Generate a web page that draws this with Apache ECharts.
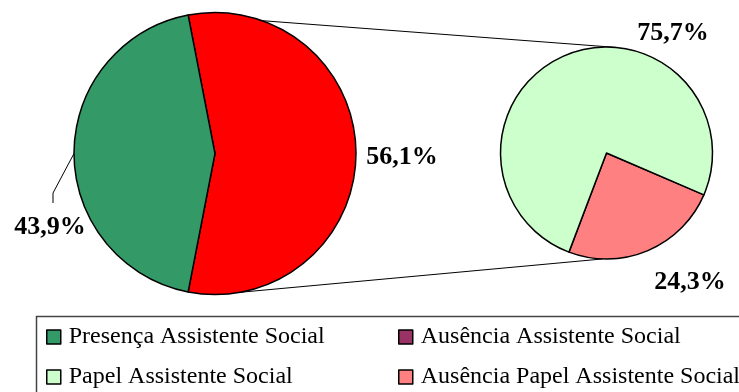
<!DOCTYPE html>
<html>
<head>
<meta charset="utf-8">
<script src="https://cdn.jsdelivr.net/npm/echarts@6/dist/echarts.min.js"></script>
<style>
  html, body { margin: 0; padding: 0; background: #fff; }
  #chart { width: 739px; height: 392px; }
</style>
</head>
<body>
<div id="chart"></div>
<script>
// Main pie: presence of a social worker vs. absence
const mainNames = ['Ausência Assistente Social', 'Presença Assistente Social'];
const mainValues = [56.1, 43.9];
// Secondary pie: breakdown of the absence slice
const subNames = ['Ausência Papel Assistente Social', 'Papel Assistente Social'];
const subValues = [24.3, 75.7];
// Legend entries, in display order per column
const legendLeft = ['Presença Assistente Social', 'Papel Assistente Social'];
const legendRight = ['Ausência Assistente Social', 'Ausência Papel Assistente Social'];

const COLORS = {
  'Presença Assistente Social': '#339966',
  'Ausência Assistente Social': '#FF0000',
  'Papel Assistente Social': '#CCFFCC',
  'Ausência Papel Assistente Social': '#FF8080'
};
const LEGEND_SWATCH = { 'Ausência Assistente Social': '#993366' };

const FONT = "'Times New Roman', 'Liberation Serif', serif";

// Geometry of the two pies
const MAIN = { cx: 215, cy: 153.5, r: 141 };
const SUB = { cx: 606.5, cy: 153, r: 106 };
const SUB_PINK_MID = -67; // direction (deg) of the breakdown's small slice

// Label anchors relative to each pie's centre
const MAIN_LABEL_OFF = [[187, 4], [-165, 73.5]];
const SUB_LABEL_OFF = [[83.5, 129], [66.5, -120]];

const fmt = v => v.toFixed(1).replace('.', ',') + '%';
const total = a => a.reduce((s, v) => s + v, 0);

const mainStart = mainValues[0] / total(mainValues) * 180;
const subStart = SUB_PINK_MID + subValues[0] / total(subValues) * 180;

function pt(p, deg) {
  const a = deg * Math.PI / 180;
  return [p.cx + p.r * Math.cos(a), p.cy - p.r * Math.sin(a)];
}

const labelStyle = {
  show: true,
  position: 'outside',
  fontFamily: FONT,
  fontWeight: 'bold',
  fontSize: 26,
  color: '#000',
  formatter: p => fmt(p.value)
};
const sliceBorder = { borderColor: '#000', borderWidth: 1.5 };

function makeData(names, values, withLine) {
  return names.map((n, i) => ({
    name: n,
    value: values[i],
    itemStyle: Object.assign({ color: COLORS[n] }, sliceBorder),
    labelLine: { show: withLine === i, lineStyle: { color: '#000', width: 1 } }
  }));
}

function layoutFor(pie, offs, lineIdx) {
  return function (params) {
    const o = offs[params.dataIndex];
    const x = pie.cx + o[0], y = pie.cy + o[1];
    const res = { x: x, y: y, align: 'center', verticalAlign: 'middle' };
    if (params.dataIndex === lineIdx && params.labelLinePoints) {
      const start = params.labelLinePoints[0];
      res.labelLinePoints = [start, [x + 3, y - 34], [x + 3, y - 24]];
    }
    return res;
  };
}

const topA = pt(MAIN, mainStart), topB = pt(SUB, 85);
const botA = pt(MAIN, -80), botB = pt(SUB, -92);

const legendCommon = {
  orient: 'vertical',
  top: 325,
  padding: 0,
  itemGap: 16,
  itemWidth: 14,
  itemHeight: 14,
  icon: 'rect',
  selectedMode: false,
  itemStyle: { borderColor: '#000', borderWidth: 1.5 },
  textStyle: { fontFamily: FONT, fontSize: 24, color: '#000', padding: [0, 0, 0, 3] }
};
const legendData = names => names.map(n => LEGEND_SWATCH[n]
  ? { name: n, itemStyle: { color: LEGEND_SWATCH[n] } }
  : { name: n });

const chart = echarts.init(document.getElementById('chart'));
chart.setOption({
  animation: false,
  backgroundColor: '#fff',
  legend: [
    Object.assign({ left: 46, data: legendData(legendLeft) }, legendCommon),
    Object.assign({ left: 398, data: legendData(legendRight) }, legendCommon)
  ],
  graphic: [
    { type: 'line', z: 0, shape: { x1: topA[0], y1: topA[1], x2: topB[0], y2: topB[1] },
      style: { stroke: '#000', lineWidth: 1 } },
    { type: 'line', z: 0, shape: { x1: botA[0], y1: botA[1], x2: botB[0], y2: botB[1] },
      style: { stroke: '#000', lineWidth: 1 } },
    { type: 'rect', z: 0, shape: { x: 36.5, y: 316.5, width: 760, height: 120 },
      style: { fill: 'none', stroke: '#444', lineWidth: 1.5 } }
  ],
  series: [
    {
      type: 'pie',
      z: 5,
      center: [MAIN.cx, MAIN.cy],
      radius: MAIN.r,
      startAngle: mainStart,
      clockwise: true,
      avoidLabelOverlap: false,
      label: labelStyle,
      labelLine: { length: 10, length2: 10 },
      labelLayout: layoutFor(MAIN, MAIN_LABEL_OFF, 1),
      emphasis: { disabled: true },
      data: makeData(mainNames, mainValues, 1)
    },
    {
      type: 'pie',
      z: 5,
      center: [SUB.cx, SUB.cy],
      radius: SUB.r,
      startAngle: subStart,
      clockwise: true,
      avoidLabelOverlap: false,
      label: labelStyle,
      labelLayout: layoutFor(SUB, SUB_LABEL_OFF, -1),
      emphasis: { disabled: true },
      data: makeData(subNames, subValues, -1)
    }
  ]
});
</script>
</body>
</html>
